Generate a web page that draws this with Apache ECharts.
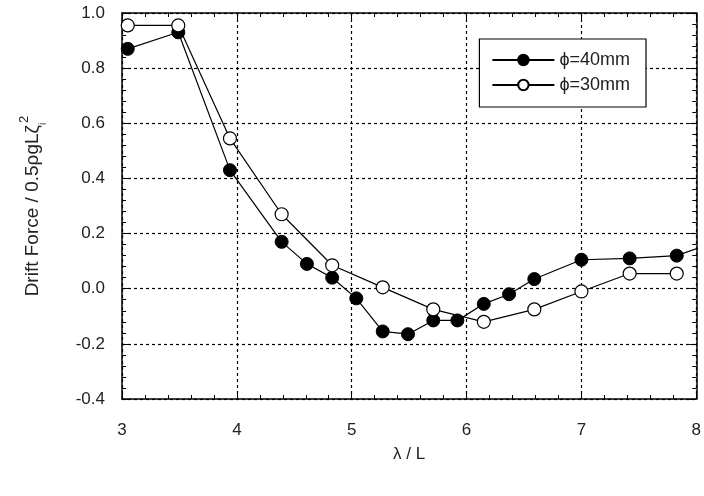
<!doctype html>
<html>
    <head>
        <meta charset="utf-8">
        <title>Drift Force</title>
        <style>
            html, body { margin: 0; padding: 0; background: #fff; }
            #main { width: 704px; height: 496px; }
        </style>
    </head>
    <body>
        <div id="main"></div>
        <script src="https://cdn.jsdelivr.net/npm/echarts@6/dist/echarts.min.js"></script>
        <script>
            // phi = 40mm (filled)
            var lambda40 = [3.05, 3.49, 3.94, 4.39, 4.61, 4.83, 5.04, 5.27, 5.49, 5.71, 5.92, 6.15, 6.37, 6.59, 7.0, 7.42, 7.83, 8.2];
            var force40 = [0.87, 0.93, 0.43, 0.17, 0.09, 0.04, -0.035, -0.155, -0.165, -0.115, -0.115, -0.055, -0.02, 0.035, 0.105, 0.11, 0.12, 0.175];
            // phi = 30mm (open)
            var lambda30 = [3.05, 3.49, 3.94, 4.39, 4.83, 5.27, 5.71, 6.15, 6.59, 7.0, 7.42, 7.83];
            var force30 = [0.955, 0.955, 0.545, 0.27, 0.085, 0.005, -0.075, -0.12, -0.075, -0.01, 0.055, 0.055];

            var xTicks = [3, 8, 1];
            var yTicks = [-0.4, 1.0, 0.2];

            function pairs(xs, ys) {
                return xs.map(function (x, i) { return [x, ys[i]]; });
            }

            var chart = echarts.init(document.getElementById('main'), null, {
                devicePixelRatio: 1
            });

            var font = 'Liberation Sans';
            var black = '#000';

            function xAxis(pos, show) {
                return {
                    type: 'value',
                    position: pos,
                    min: xTicks[0],
                    max: xTicks[1],
                    interval: xTicks[2],
                    axisLine: { show: true, onZero: false, lineStyle: { color: black, width: 1.5 } },
                    axisTick: { show: true, inside: true, length: 7, lineStyle: { color: black } },
                    minorTick: { show: true, splitNumber: 5, length: 4, lineStyle: { color: black } },
                    splitLine: { show: show, lineStyle: { color: black, type: [3, 3], width: 1.2 } },
                    axisLabel: {
                        show: show, color: '#222', fontSize: 17, fontFamily: font, margin: 23
                    },
                    name: show ? '\u03bb / L' : '',
                    nameLocation: 'middle',
                    nameGap: 47,
                    nameTextStyle: { color: '#222', fontSize: 17, fontFamily: font }
                };
            }

            function yAxis(pos, show) {
                return {
                    type: 'value',
                    position: pos,
                    min: yTicks[0],
                    max: yTicks[1],
                    interval: yTicks[2],
                    axisLine: { show: true, onZero: false, lineStyle: { color: black, width: 1.5 } },
                    axisTick: { show: true, inside: true, length: 7, lineStyle: { color: black } },
                    minorTick: { show: true, splitNumber: 5, length: 4, lineStyle: { color: black } },
                    splitLine: { show: show, lineStyle: { color: black, type: [3, 3], width: 1.2 } },
                    axisLabel: {
                        show: show, color: '#222', fontSize: 17, fontFamily: font, margin: 17,
                        formatter: function (v) { return v.toFixed(1); }
                    },
                    name: show ? 'Drift Force / 0.5\u03c1gL\u03b6{sub|i}{sup|2}' : '',
                    nameLocation: 'middle',
                    nameGap: 74,
                    nameRotate: 90,
                    nameTextStyle: {
                        color: '#222', fontSize: 19, fontFamily: font, lineHeight: 30,
                        rich: {
                            sup: { fontSize: 13, fontFamily: font, color: '#222', verticalAlign: 'top', lineHeight: 30 },
                            sub: { fontSize: 10, fontFamily: font, color: '#222', verticalAlign: 'bottom', lineHeight: 30 }
                        }
                    }
                };
            }

            chart.setOption({
                backgroundColor: '#fff',
                animation: false,
                grid: { left: 122, right: 7, top: 13, bottom: 97 },
                xAxis: [xAxis('bottom', true), xAxis('top', false)],
                yAxis: [yAxis('left', true), yAxis('right', false)],
                legend: {
                    right: 58,
                    top: 39,
                    orient: 'vertical',
                    backgroundColor: '#fff',
                    borderColor: black,
                    borderWidth: 1.2,
                    borderRadius: 0,
                    padding: [12, 16, 13, 12],
                    itemGap: 7,
                    itemWidth: 62,
                    itemHeight: 13,
                    textStyle: { color: '#222', fontSize: 18, fontFamily: font },
                    data: ['\u03d5=40mm', '\u03d5=30mm']
                },
                series: [{
                    name: '\u03d5=40mm',
                    type: 'line',
                    clip: true,
                    data: pairs(lambda40, force40),
                    symbol: 'circle',
                    symbolSize: 13,
                    itemStyle: { color: black, borderColor: black, borderWidth: 1 },
                    lineStyle: { color: black, width: 1.2 },
                    z: 3
                }, {
                    name: '\u03d5=30mm',
                    type: 'line',
                    clip: true,
                    data: pairs(lambda30, force30),
                    symbol: 'circle',
                    symbolSize: 13,
                    itemStyle: { color: '#fff', borderColor: black, borderWidth: 1.2 },
                    lineStyle: { color: black, width: 1.2 },
                    z: 4
                }]
            });

            window.onresize = chart.resize;
        </script>
    </body>
</html>
